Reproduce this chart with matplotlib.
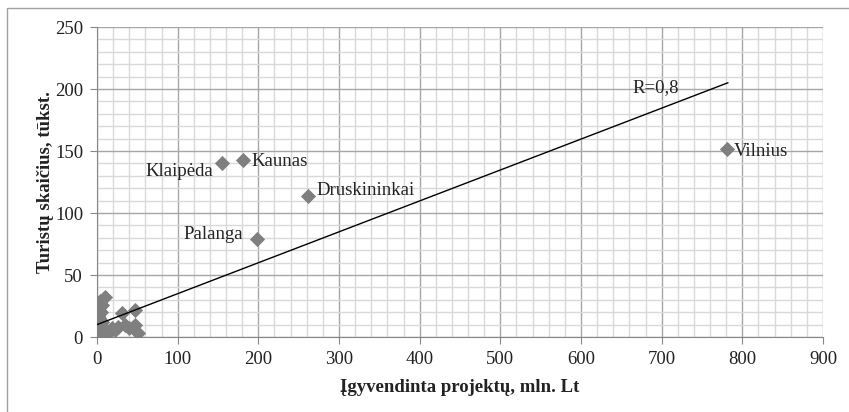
import matplotlib
matplotlib.use('Agg')
import matplotlib.pyplot as plt
from matplotlib.ticker import MultipleLocator
from matplotlib.patches import Rectangle

plt.rcParams['font.family'] = ['Liberation Serif', 'DejaVu Serif']

# miestai su pavadinimais
city_names = ['Klaipėda', 'Kaunas', 'Druskininkai', 'Palanga', 'Vilnius']
city_x = [155, 181, 262, 198, 781]
city_y = [140, 143, 114, 79, 152]

# kitos savivaldybės (mažos reikšmės prie pradžios)
small_x = [10, 31, 47, 35, 47, 51, 22, 14, 2, 3, 5, 1, 4, 6, 2, 8, 3, 1, 7, 0, 2,
           4, 6, 9, 12, 18, 1, 3, 5, 26, 40]
small_y = [32, 19, 22, 10, 10, 3, 6, 3, 27, 24, 20, 17, 14, 12, 10, 8, 6, 4, 2, 1, 0,
           29, 26, 5, 4, 7, 22, 15, 9, 8, 7]

# tendencijos linija
trend_x = [0, 782]
trend_y = [10, 205]
trend_label = 'R=0,8'

fs = 13.5
fig = plt.figure(figsize=(8.49, 4.12), dpi=100)
ax = fig.add_axes([97 / 849, 75 / 412, 726 / 849, 310 / 412])

ax.set_xlim(0, 900)
ax.set_ylim(0, 250)
ax.xaxis.set_major_locator(MultipleLocator(100))
ax.xaxis.set_minor_locator(MultipleLocator(20))
ax.yaxis.set_major_locator(MultipleLocator(50))
ax.yaxis.set_minor_locator(MultipleLocator(10))
ax.grid(which='minor', color='#d9d9d9', linewidth=1.0)
ax.grid(which='major', color='#a6a6a6', linewidth=1.0)
ax.set_axisbelow(True)

for s in ['top', 'right']:
    ax.spines[s].set_visible(False)
for s in ['left', 'bottom']:
    ax.spines[s].set_color('#868686')
ax.tick_params(which='major', direction='out', length=5, color='#868686',
               labelsize=fs, labelcolor='#222222')
ax.tick_params(axis='x', pad=5)
ax.tick_params(axis='y', pad=5)
ax.tick_params(which='minor', length=0)

ax.scatter(small_x, small_y, marker='D', s=60, color='#7f7f7f', zorder=3, linewidths=0)
ax.scatter(city_x, city_y, marker='D', s=60, color='#7f7f7f', zorder=3, linewidths=0)
ax.plot(trend_x, trend_y, color='black', linewidth=1.0, zorder=4)

offsets = {
    'Klaipėda': (-6, -6, 'right'),
    'Kaunas': (6, -1, 'left'),
    'Druskininkai': (6, 4, 'left'),
    'Palanga': (-10, 3, 'right'),
    'Vilnius': (5, -2, 'left'),
}
for name, x, y in zip(city_names, city_x, city_y):
    dx, dy, ha = offsets[name]
    ax.annotate(name, (x, y), xytext=(dx, dy), textcoords='offset points',
                ha=ha, va='center', fontsize=fs, color='#222222')

ax.text(692, 201, trend_label, ha='center', va='center', fontsize=fs, color='#222222')

ax.set_xlabel('Įgyvendinta projektų, mln. Lt', fontsize=fs, fontweight='bold',
              labelpad=8, color='#222222')
ax.set_ylabel('Turistų skaičius, tūkst.', fontsize=fs, fontweight='bold',
              labelpad=1, color='#222222')

# rėmelis aplink diagramą
fig.patches.append(Rectangle((7 / 849, -0.1), 1.2, (412 - 8) / 412 + 0.1,
                             transform=fig.transFigure, fill=False,
                             edgecolor='#a0a0a0', linewidth=1.0))

fig.savefig('out.png', dpi=100)
